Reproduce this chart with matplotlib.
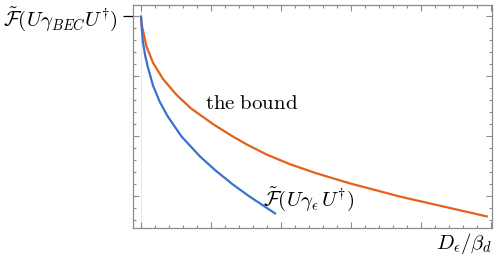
import matplotlib
matplotlib.use("Agg")
import matplotlib.pyplot as plt
from matplotlib.ticker import MultipleLocator, FixedLocator

plt.rcParams['mathtext.fontset'] = 'cm'

# Data (arbitrary units)
blue_x = [0.0, 0.05, 0.14, 0.3, 0.5, 0.86, 1.34, 1.9, 2.9, 4.21, 5.3, 6.57, 7.7, 8.6, 9.57]
blue_y = [19.94, 19.0, 17.8, 16.7, 15.7, 14.2, 12.85, 11.65, 9.95, 8.3, 7.15, 5.95, 5.0, 4.3, 3.55]

orange_x = [0.0, 0.07, 0.14, 0.38, 0.86, 1.57, 2.52, 3.57, 5.2, 6.57, 7.55, 8.98,
            10.64, 12.5, 14.93, 18.5, 22.07, 24.69]
orange_y = [19.94, 19.2, 18.8, 17.5, 16.1, 14.75, 13.45, 12.3, 10.95, 9.95, 9.3, 8.45,
            7.65, 6.9, 6.05, 4.95, 4.0, 3.3]

y_label_value = 20
y_label_text = r'$\tilde{\mathcal{F}}(U\gamma_{BEC}U^{\dagger})$'
blue_label = r'$\tilde{\mathcal{F}}(U\gamma_{\epsilon}\,U^{\dagger})$'
orange_label = r'$\mathrm{the\ bound}$'
x_label = r'$D_{\epsilon}/\beta_d$'

BLUE = '#3b72cf'
ORANGE = '#e4611b'
GRAY = '#8c8c8c'

fig = plt.figure(figsize=(4.98, 2.60), dpi=100)
ax = fig.add_axes([133/498, 32/260, (492-133)/498, (228-5)/260])

ax.axvline(0, color='#e6e6e6', lw=0.8, zorder=0)
ax.plot(orange_x, orange_y, color=ORANGE, lw=1.6, solid_joinstyle='round')
ax.plot(blue_x, blue_y, color=BLUE, lw=1.6, solid_joinstyle='round')

ax.set_xlim(-0.571, 25.07)
ax.set_ylim(2.333, 20.917)

for s in ax.spines.values():
    s.set_color(GRAY)
    s.set_linewidth(0.9)

ax.xaxis.set_major_locator(MultipleLocator(5))
ax.xaxis.set_minor_locator(MultipleLocator(1))
ax.yaxis.set_major_locator(FixedLocator([5, 10, 15, 20]))
ax.yaxis.set_minor_locator(MultipleLocator(1))
ax.tick_params(which='both', direction='in', colors=GRAY, top=True, right=True,
               labelbottom=False, labelleft=False, width=0.8)
ax.tick_params(which='major', length=4.5)
ax.tick_params(which='minor', length=2.5)

sec = ax.secondary_yaxis('left')
sec.set_yticks([y_label_value], labels=[y_label_text])
sec.tick_params(direction='out', length=7.2, width=0.9, color='black', labelsize=15, pad=4)
sec.spines['left'].set_visible(False)

ax.text(4.55, 12.75, orange_label, fontsize=15, ha='left', va='center')
ax.text(8.7, 4.75, blue_label, fontsize=15, ha='left', va='center')

ax.set_xlabel(x_label, fontsize=15, loc='right', labelpad=2)

fig.savefig('out.png', dpi=100)
